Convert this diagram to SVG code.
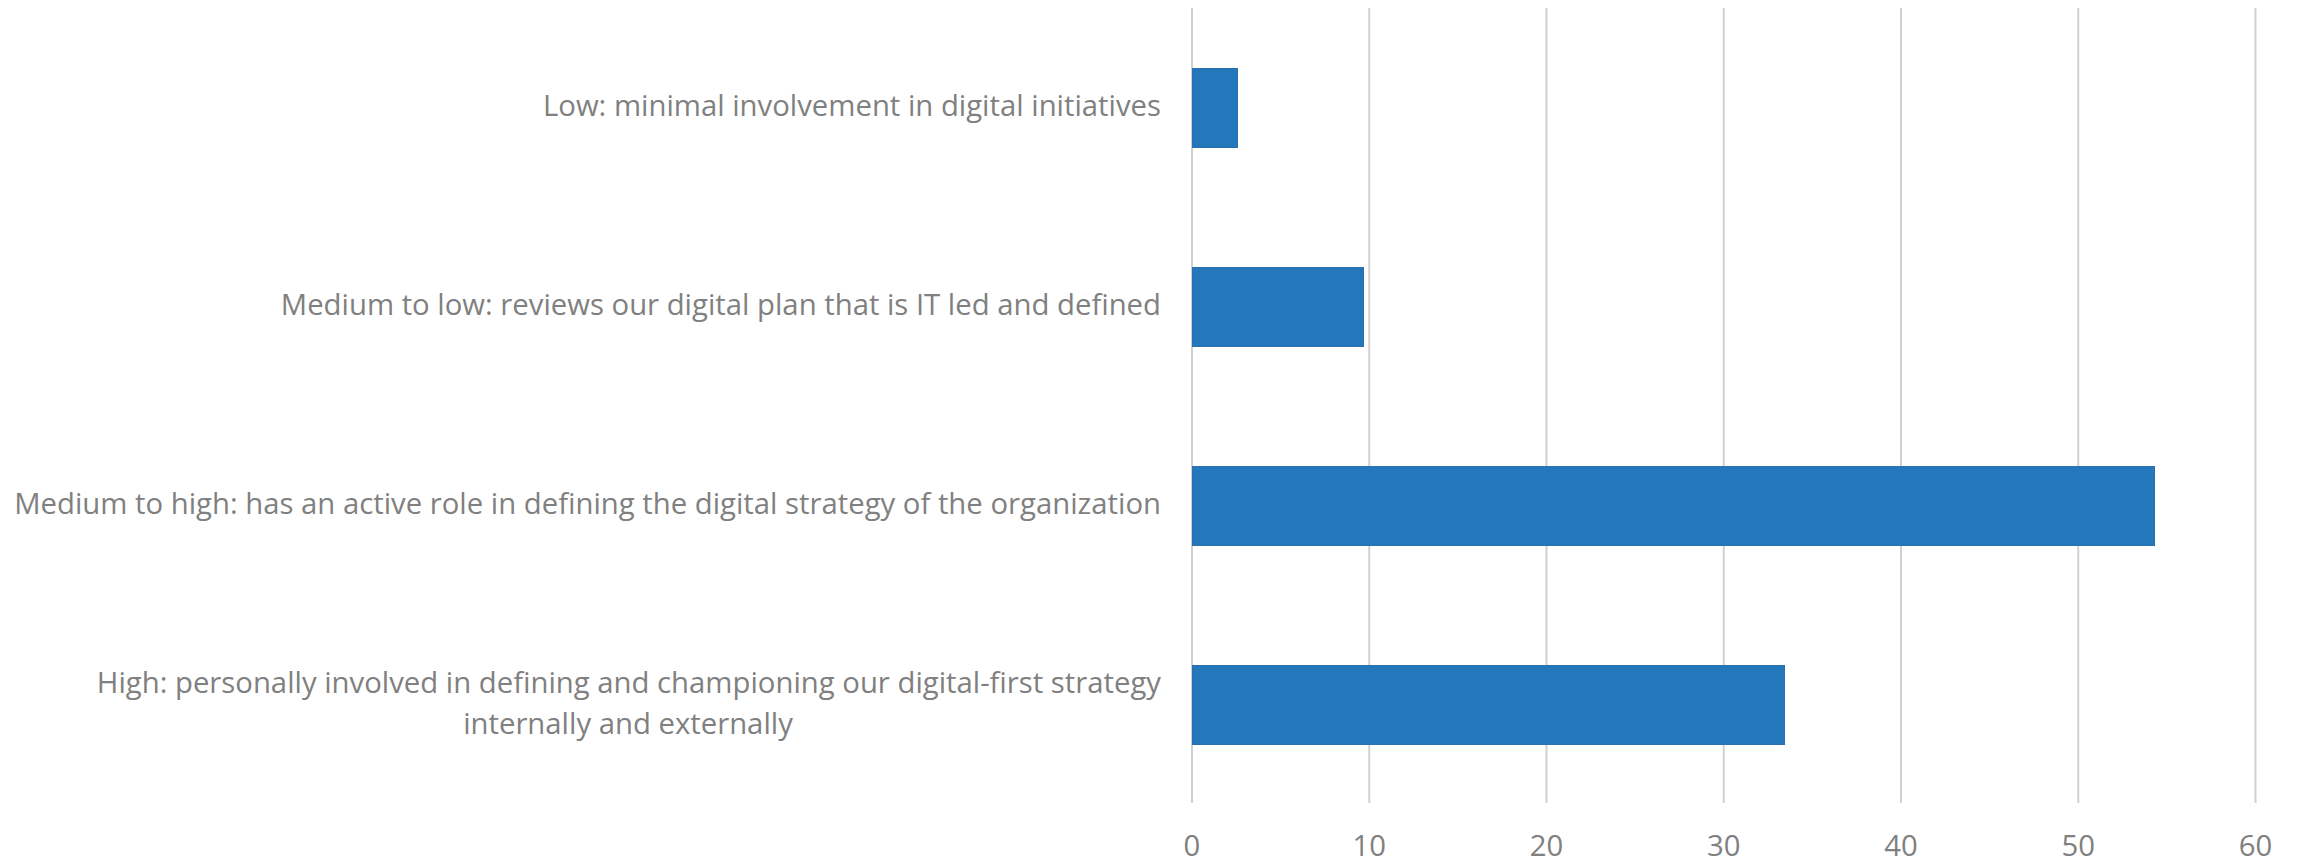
<svg xmlns="http://www.w3.org/2000/svg" width="2298" height="861" viewBox="0 0 2298 861">
<style>
.lbl{font-family:"Open Sans","Noto Sans","Liberation Sans",sans-serif;font-size:29.3px;fill:#808080}
.end{text-anchor:end}
.mid{text-anchor:middle}
.grid{stroke:#d0d0d0;stroke-width:2;fill:none}
.bar{fill:#2477bb;stroke:#2c6fae;stroke-width:1}
</style>
<rect width="2298" height="861" fill="#ffffff"/>
<g id="gridlines">
<line class="grid" x1="1192" y1="8" x2="1192" y2="803"/>
<line class="grid" x1="1369.25" y1="8" x2="1369.25" y2="803"/>
<line class="grid" x1="1546.5" y1="8" x2="1546.5" y2="803"/>
<line class="grid" x1="1723.75" y1="8" x2="1723.75" y2="803"/>
<line class="grid" x1="1901" y1="8" x2="1901" y2="803"/>
<line class="grid" x1="2078.25" y1="8" x2="2078.25" y2="803"/>
<line class="grid" x1="2255.5" y1="8" x2="2255.5" y2="803"/>
</g>
<g id="axis-labels">
<text class="lbl mid" x="1192" y="856">0</text>
<text class="lbl mid" x="1369.25" y="856">10</text>
<text class="lbl mid" x="1546.5" y="856">20</text>
<text class="lbl mid" x="1723.75" y="856">30</text>
<text class="lbl mid" x="1901" y="856">40</text>
<text class="lbl mid" x="2078.25" y="856">50</text>
<text class="lbl mid" x="2255.5" y="856">60</text>
</g>
<g id="cat-low">
<text class="lbl end" x="1161" y="116">Low: minimal involvement in digital initiatives</text>
<rect class="bar" x="1192.5" y="68.5" width="45" height="79"/>
</g>
<g id="cat-medium-low">
<text class="lbl end" x="1161" y="315">Medium to low: reviews our digital plan that is IT led and defined</text>
<rect class="bar" x="1192.5" y="267.5" width="171" height="79"/>
</g>
<g id="cat-medium-high">
<text class="lbl end" x="1161" y="514">Medium to high: has an active role in defining the digital strategy of the organization</text>
<rect class="bar" x="1192.5" y="466.5" width="962" height="79"/>
</g>
<g id="cat-high">
<text class="lbl end" x="1161" y="692.5">High: personally involved in defining and championing our digital-first strategy</text>
<text class="lbl mid" x="628" y="734">internally and externally</text>
<rect class="bar" x="1192.5" y="665.5" width="592" height="79"/>
</g>
</svg>
